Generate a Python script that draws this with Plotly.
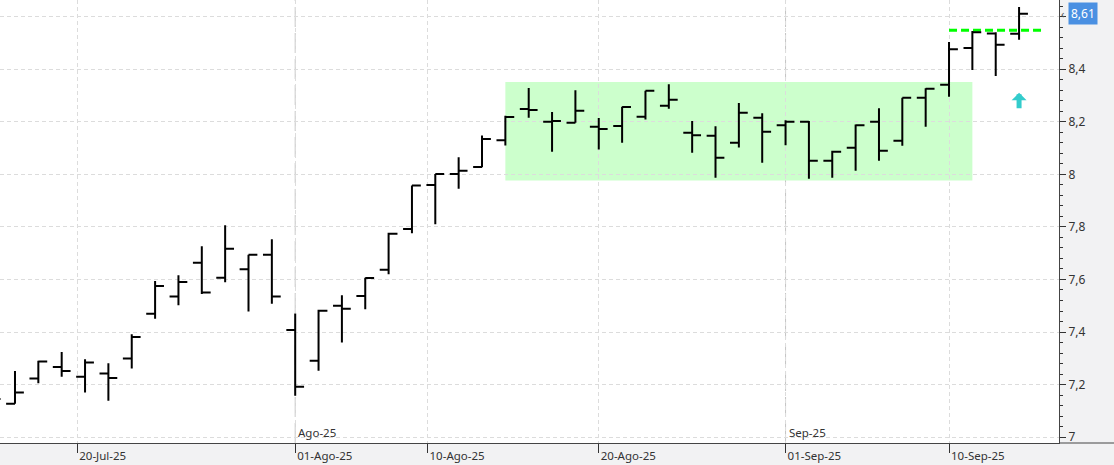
import pandas as pd
import plotly.graph_objects as go

# ---------------- data ----------------
dates = [
    "2025-07-15", "2025-07-16", "2025-07-17", "2025-07-18",
    "2025-07-21", "2025-07-22", "2025-07-23", "2025-07-24", "2025-07-25",
    "2025-07-28", "2025-07-29", "2025-07-30", "2025-07-31", "2025-08-01",
    "2025-08-04", "2025-08-05", "2025-08-06", "2025-08-07", "2025-08-08",
    "2025-08-11", "2025-08-12", "2025-08-13", "2025-08-14", "2025-08-15",
    "2025-08-18", "2025-08-19", "2025-08-20", "2025-08-21", "2025-08-22",
    "2025-08-25", "2025-08-26", "2025-08-27", "2025-08-28", "2025-08-29",
    "2025-09-01", "2025-09-02", "2025-09-03", "2025-09-04", "2025-09-05",
    "2025-09-08", "2025-09-09", "2025-09-10", "2025-09-11", "2025-09-12",
    "2025-09-15",
]
opens = [
    7.160, 7.127, 7.223, 7.267,
    7.230, 7.242, 7.299, 7.470, 7.535,
    7.664, 7.607, 7.639, 7.694, 7.408,
    7.291, 7.500, 7.537, 7.637, 7.792,
    7.959, 8.001, 8.028, 8.130, 8.248,
    8.200, 8.196, 8.181, 8.184, 8.219,
    8.261, 8.158, 8.147, 8.120, 8.215,
    8.187, 8.200, 8.052, 8.101, 8.200,
    8.128, 8.291, 8.341, 8.480, 8.536,
    8.535,
]
highs = [
    7.190, 7.252, 7.291, 7.324,
    7.297, 7.281, 7.392, 7.594, 7.616,
    7.726, 7.806, 7.694, 7.753, 7.471,
    7.485, 7.540, 7.607, 7.778, 7.957,
    8.001, 8.065, 8.148, 8.223, 8.328,
    8.237, 8.320, 8.214, 8.257, 8.318,
    8.343, 8.203, 8.183, 8.271, 8.232,
    8.206, 8.203, 8.090, 8.189, 8.251,
    8.291, 8.327, 8.503, 8.545, 8.540,
    8.636,
]
lows = [
    7.120, 7.127, 7.205, 7.230,
    7.170, 7.139, 7.261, 7.451, 7.502,
    7.545, 7.589, 7.478, 7.508, 7.158,
    7.253, 7.360, 7.487, 7.620, 7.776,
    7.810, 7.945, 8.027, 8.110, 8.215,
    8.086, 8.196, 8.094, 8.120, 8.208,
    8.249, 8.082, 7.987, 8.102, 8.044,
    8.111, 7.983, 7.987, 8.014, 8.052,
    8.109, 8.181, 8.295, 8.397, 8.374,
    8.512,
]
closes = [
    7.145, 7.170, 7.288, 7.252,
    7.284, 7.225, 7.381, 7.575, 7.590,
    7.550, 7.717, 7.694, 7.535, 7.192,
    7.481, 7.489, 7.606, 7.774, 7.957,
    8.001, 8.014, 8.134, 8.218, 8.245,
    8.203, 8.242, 8.172, 8.256, 8.318,
    8.284, 8.149, 8.063, 8.234, 8.162,
    8.200, 8.052, 8.086, 8.187, 8.090,
    8.291, 8.325, 8.476, 8.540, 8.493,
    8.611,
]

tick_dates = ["2025-07-20", "2025-08-01", "2025-08-10", "2025-08-20", "2025-09-01", "2025-09-10"]
tick_labels = ["20-Jul-25", "01-Ago-25", "10-Ago-25", "20-Ago-25", "01-Sep-25", "10-Sep-25"]
month_dates = ["2025-08-01", "2025-09-01"]
month_labels = ["Ago-25", "Sep-25"]
y_ticks = [7.0, 7.2, 7.4, 7.6, 7.8, 8.0, 8.2, 8.4, 8.6]
y_labels = ["7", "7,2", "7,4", "7,6", "7,8", "8", "8,2", "8,4", ""]  # 8,6 hidden under price tag

zone_start, zone_end = "2025-08-14", "2025-09-11"
zone_low, zone_high = 7.976, 8.351
resistance_level = 8.548
resistance_start = "2025-09-10"
signal_date = "2025-09-15"
signal_tip = 8.31

# ---------------- helpers ----------------
d = pd.to_datetime(pd.Series(dates))
idx = list(range(len(dates)))


def pos(date):
    t = pd.Timestamp(date)
    hit = d[d == t]
    if len(hit):
        return float(hit.index[0])
    prev_i = d[d < t].index.max()
    next_i = d[d > t].index.min()
    frac = (t - d[prev_i]) / (d[next_i] - d[prev_i])
    return prev_i + frac


FONT = "Noto Sans"
TXT = "#333333"

fig = go.Figure()
fig.add_trace(go.Ohlc(
    x=idx, open=opens, high=highs, low=lows, close=closes,
    increasing=dict(line=dict(color="black", width=2)),
    decreasing=dict(line=dict(color="black", width=2)),
    tickwidth=0.38, hoverinfo="skip", showlegend=False,
))

shapes = [
    dict(type="rect", xref="x", yref="y", x0=pos(zone_start), x1=pos(zone_end),
         y0=zone_low, y1=zone_high, fillcolor="#ccffcc", line=dict(width=0), layer="below"),
    dict(type="line", xref="x", yref="y", x0=pos(resistance_start), x1=len(dates),
         y0=resistance_level, y1=resistance_level,
         line=dict(color="#00ff00", width=3, dash="8px,4px"), layer="between"),
    dict(type="line", xref="paper", yref="paper", x0=1, x1=1.1, y0=0, y1=0,
         line=dict(color="#444444", width=1)),
]
for md in month_dates:
    shapes.append(dict(type="line", xref="x", yref="paper", x0=pos(md), x1=pos(md), y0=0, y1=1,
                       line=dict(color="#c4c4c4", width=1, dash="20px,6px"), layer="between"))

annotations = []
for md, ml in zip(month_dates, month_labels):
    annotations.append(dict(x=pos(md), xref="x", y=0, yref="paper", text=ml, showarrow=False,
                            xanchor="left", yanchor="bottom", xshift=1, yshift=1,
                            font=dict(family=FONT, size=11.5, color=TXT)))
annotations.append(dict(x=pos(signal_date), xref="x", y=signal_tip, yref="y", text="",
                        showarrow=True, ax=0, ay=17, arrowhead=1, arrowsize=0.5,
                        arrowwidth=5, arrowcolor="#33cccc", standoff=0, startstandoff=0))
annotations.append(dict(x=1, xref="paper", y=closes[-1], yref="y", text="‹", showarrow=False,
                        xanchor="left", yanchor="middle", xshift=0,
                        font=dict(family=FONT, size=11, color="#555555")))
annotations.append(dict(x=1, xref="paper", y=closes[-1], yref="y",
                        text=f"{closes[-1]:.2f}".replace(".", ","), showarrow=False,
                        xanchor="left", yanchor="middle", xshift=9,
                        bgcolor="#4a90e2", borderpad=2,
                        font=dict(family=FONT, size=12, color="white")))

fig.update_layout(
    width=1114, height=465,
    margin=dict(l=0, r=55, t=0, b=22),
    paper_bgcolor="#f2f2f3", plot_bgcolor="white",
    separators=",.",
    shapes=shapes, annotations=annotations,
    xaxis=dict(
        type="linear", range=[0.358, 45.71],
        tickvals=[pos(t) for t in tick_dates], ticktext=tick_labels,
        ticks="outside", ticklen=9, tickcolor="#333333",
        ticklabelposition="outside right", ticklabelstandoff=2, ticklabelshift=1,
        showline=True, linecolor="#444444", linewidth=1,
        showgrid=True, gridcolor="#dcdcdc", griddash="4px,3px", gridwidth=1,
        zeroline=False, rangeslider=dict(visible=False),
        tickfont=dict(family=FONT, size=11.5, color=TXT),
    ),
    yaxis=dict(
        side="right", range=[6.978, 8.663],
        tickvals=y_ticks, ticktext=y_labels,
        ticks="outside", ticklen=6, tickcolor="#333333",
        minor=dict(dtick=0.04, tick0=7, ticks="outside", ticklen=3, tickcolor="#333333", showgrid=False),
        showline=True, linecolor="#444444", linewidth=1,
        showgrid=True, gridcolor="#dcdcdc", griddash="4px,3px", gridwidth=1,
        zeroline=False,
        tickfont=dict(family=FONT, size=12, color=TXT),
    ),
)

fig.write_html("out.html", config={"displayModeBar": False},
               post_script="document.body.style.margin='0px';")
